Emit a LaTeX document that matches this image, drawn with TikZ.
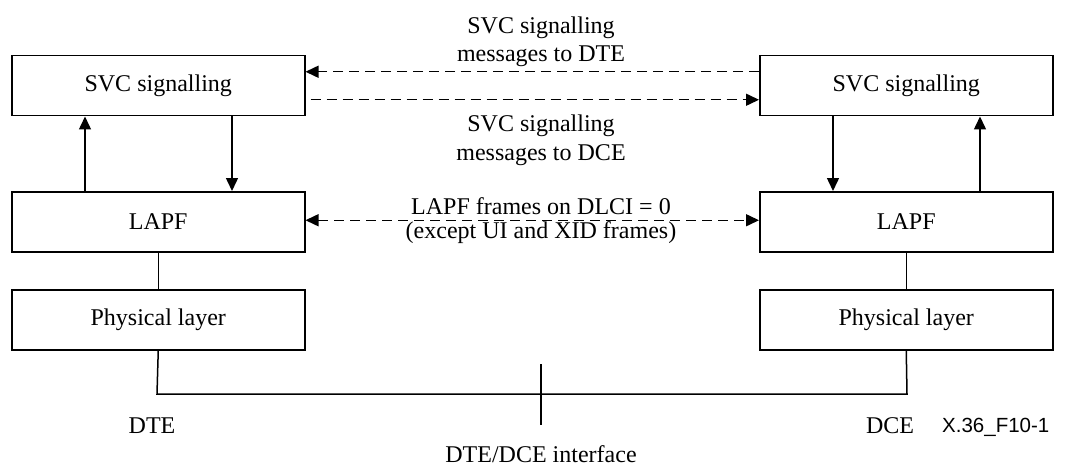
\documentclass[tikz,border=0pt]{standalone}
\usepackage{fontspec}
\setmainfont{Liberation Serif}
\newfontfamily\figsans{Liberation Sans}
\usetikzlibrary{arrows.meta}
\tikzset{
  box/.style={draw, line width=1.5pt, minimum width=293pt, minimum height=60pt, inner sep=0pt, anchor=north west, font=\fontsize{24}{29}\selectfont},
  conn/.style={line width=1.5pt},
  tip/.tip={Triangle[length=13pt,width=12pt]},
  arr/.style={conn, -tip},
  darr/.style={conn, dash pattern=on 10pt off 6pt, -tip},
  ddarr/.style={conn, dash pattern=on 10pt off 6pt, tip-tip},
  lbl/.style={inner sep=0pt, align=center, font=\fontsize{24}{28.5}\selectfont},
}
\begin{document}
\begin{tikzpicture}[x=1pt, y=-1pt]
\useasboundingbox (0,0) rectangle (1071,468);
% left stack
\node[box] (svcL) at (11,55) {SVC signalling};
\node[box] (lapfL) at (11,191) {LAPF};
\node[box] (phyL) at (11,289) {Physical layer};
% right stack
\node[box] (svcR) at (759,55) {SVC signalling};
\node[box] (lapfR) at (759,191) {LAPF};
\node[box] (phyR) at (759,289) {Physical layer};
% vertical arrows
\draw[arr] ([xshift=74pt]lapfL.north west) -- ([xshift=74pt]svcL.south west);
\draw[arr] ([xshift=221pt]svcL.south west) -- ([xshift=221pt]lapfL.north west);
\draw[arr] ([xshift=74pt]svcR.south west) -- ([xshift=74pt]lapfR.north west);
\draw[arr] ([xshift=221pt]lapfR.north west) -- ([xshift=221pt]svcR.south west);
\draw[conn] (lapfL.south) -- (phyL.north);
\draw[conn] (lapfR.south) -- (phyR.north);
% dashed arrows
\draw[darr] ([yshift=14pt]svcR.west) -- ([yshift=14pt]svcL.east);
\draw[darr, shorten <=5pt] ([yshift=-14pt]svcL.east) -- ([yshift=-14pt]svcR.west);
\draw[ddarr] ([yshift=1.5pt]lapfL.east) -- ([yshift=1.5pt]lapfR.west);
% labels
\node[lbl] (m1) at (541,41.9) {SVC signalling\\messages to DTE};
\node[lbl] (m2) at (541,140.4) {SVC signalling\\messages to DCE};
\node[lbl, font=\fontsize{24}{23.5}\selectfont] (m3) at (541,220.7) {LAPF frames on DLCI = 0\\(except UI and XID frames)};
% physical connection
\coordinate (jL) at (157,394);
\coordinate (jR) at (907,394);
\draw[conn] (phyL.south) -- (jL) -- (jR) -- (phyR.south);
\coordinate (itop) at (541,364);
\coordinate (ibot) at (541,425);
\draw[conn] (itop) -- (ibot);
\node[lbl, anchor=base] (dte) at (152,433) {DTE};
\node[lbl, anchor=base] (dce) at (890,433) {DCE};
\node[lbl, anchor=base] (ifc) at (541,462) {DTE/DCE interface};
\node[inner sep=0pt, anchor=base west, font=\figsans\fontsize{20.5}{24}\selectfont] (fig) at (942,432) {X.36\_F10-1};
\end{tikzpicture}
\end{document}
